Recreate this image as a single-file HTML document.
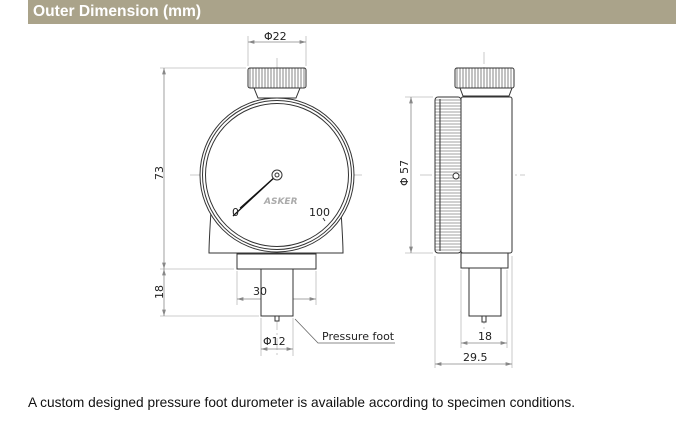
<!DOCTYPE html>
<html><head><meta charset="utf-8"><style>
html,body{margin:0;padding:0;background:#fff;width:677px;height:424px;overflow:hidden}
.hd{position:absolute;left:28px;top:0;width:648px;height:24px;background:#aaa38a;color:#fff;font:bold 15.6px "Liberation Sans",sans-serif;line-height:24px;padding-left:5px;box-sizing:border-box}
.ft{position:absolute;left:28px;top:395px;font:13.7px "Liberation Sans",sans-serif;color:#111}
svg{position:absolute;left:0;top:0}
text{font-family:"DejaVu Sans","Liberation Sans",sans-serif;font-size:11px;fill:#222}
</style></head><body>
<div class="hd">Outer Dimension (mm)</div>
<svg width="677" height="424" viewBox="0 0 677 424">
<defs>
<marker id="a" viewBox="0 0 10 6" refX="10" refY="3" markerWidth="8" markerHeight="5" orient="auto-start-reverse"><path d="M0,0L10,3L0,6z" fill="#888"/></marker>
<pattern id="kn" width="3" height="4" patternUnits="userSpaceOnUse"><rect width="3" height="4" fill="#fff"/><line x1="1" y1="0" x2="1" y2="4" stroke="#666" stroke-width="0.8"/></pattern>
<pattern id="kh" width="4" height="3" patternUnits="userSpaceOnUse"><rect width="4" height="3" fill="#fff"/><line x1="0" y1="1" x2="4" y2="1" stroke="#777" stroke-width="0.7"/></pattern>
</defs>
<g fill="none" stroke="#bbb" stroke-width="0.8">
<line x1="277" y1="58" x2="277" y2="355" stroke-dasharray="12,3,2,3"/>
<line x1="190" y1="175" x2="365" y2="175" stroke-dasharray="12,3,2,3"/>
<line x1="484" y1="52" x2="484" y2="330" stroke-dasharray="12,3,2,3"/>
<line x1="420" y1="175" x2="525" y2="175" stroke-dasharray="12,3,2,3"/>
<line x1="248" y1="36" x2="248" y2="66"/><line x1="306" y1="36" x2="306" y2="66"/>
<line x1="160" y1="68" x2="246" y2="68"/><line x1="160" y1="269" x2="234" y2="269"/>
<line x1="160" y1="316" x2="259" y2="316"/>
<line x1="237" y1="271" x2="237" y2="305"/><line x1="316" y1="271" x2="316" y2="305"/>
<line x1="261" y1="318" x2="261" y2="356"/><line x1="293" y1="318" x2="293" y2="356"/>
<line x1="405" y1="97" x2="433" y2="97"/><line x1="405" y1="253" x2="433" y2="253"/>
<line x1="461" y1="270" x2="461" y2="348"/><line x1="507" y1="270" x2="507" y2="348"/>
<line x1="435" y1="256" x2="435" y2="368"/><line x1="512" y1="256" x2="512" y2="368"/>
</g>
<g stroke="#888" stroke-width="0.8" fill="none">
<line x1="248" y1="42" x2="306" y2="42" marker-start="url(#a)" marker-end="url(#a)"/>
<line x1="164" y1="68" x2="164" y2="269" marker-start="url(#a)" marker-end="url(#a)"/>
<line x1="164" y1="269" x2="164" y2="316" marker-start="url(#a)" marker-end="url(#a)"/>
<line x1="237" y1="299" x2="316" y2="299" marker-start="url(#a)" marker-end="url(#a)"/>
<line x1="261" y1="349" x2="293" y2="349" marker-start="url(#a)" marker-end="url(#a)"/>
<line x1="411" y1="97" x2="411" y2="253" marker-start="url(#a)" marker-end="url(#a)"/>
<line x1="461" y1="343" x2="507" y2="343" marker-start="url(#a)" marker-end="url(#a)"/>
<line x1="435" y1="364" x2="512" y2="364" marker-start="url(#a)" marker-end="url(#a)"/>
<polyline points="295,319 318,343 395,343" stroke="#666"/>
</g>
<g stroke="#333" stroke-width="1" fill="#fff">
<path d="M254,88 L258,98 L296,98 L300,88 Z"/>
<rect x="248" y="68" width="58" height="20" rx="2" fill="url(#kn)"/>
<path d="M212,196 Q209,240 209,253 L343,253 Q343,240 340,196 Z"/>
<circle cx="277" cy="175" r="77"/>
<circle cx="277" cy="175" r="74.5" fill="none"/>
<circle cx="277" cy="175" r="71.5"/>
<rect x="237" y="254" width="79" height="15"/>
<rect x="261" y="269" width="32" height="47"/>
<rect x="275" y="316" width="4" height="5"/>
<line x1="277" y1="175" x2="233" y2="216" stroke="#111" stroke-width="1.3"/>
<line x1="277" y1="175" x2="240" y2="208" stroke="#111" stroke-width="1"/>
<circle cx="277" cy="175" r="5"/>
<circle cx="277" cy="175" r="2"/>
<line x1="323" y1="218" x2="325" y2="221"/>
</g>
<text x="232" y="216" font-size="12">0</text>
<text x="309" y="216" font-size="12">100</text>
<text x="264" y="204" style="font-size:9px;font-weight:bold;fill:#aaa;font-style:italic">ASKER</text>
<g stroke="#333" stroke-width="1" fill="#fff">
<path d="M460,88 L463,96 L509,96 L512,88 Z"/>
<rect x="455" y="68" width="59" height="20" rx="2" fill="url(#kn)"/>
<rect x="461" y="97" width="51" height="156" rx="2"/>
<rect x="435" y="97" width="26" height="156" rx="3" fill="url(#kh)"/>
<line x1="440" y1="99" x2="440" y2="251"/>
<rect x="461" y="253" width="47" height="15"/>
<rect x="469" y="268" width="32" height="48"/>
<rect x="482" y="316" width="4" height="6"/>
<circle cx="456" cy="176" r="3"/>
</g>
<text x="264" y="40">Φ22</text>
<text x="253" y="295">30</text>
<text x="263" y="345">Φ12</text>
<text x="322" y="340">Pressure foot</text>
<text x="478" y="340">18</text>
<text x="463" y="361">29.5</text>
<text transform="translate(163,180) rotate(-90)">73</text>
<text transform="translate(163,299) rotate(-90)">18</text>
<text transform="translate(408,186) rotate(-90)">Φ 57</text>
</svg>
<div class="ft">A custom designed pressure foot durometer is available according to specimen conditions.</div>
</body></html>
